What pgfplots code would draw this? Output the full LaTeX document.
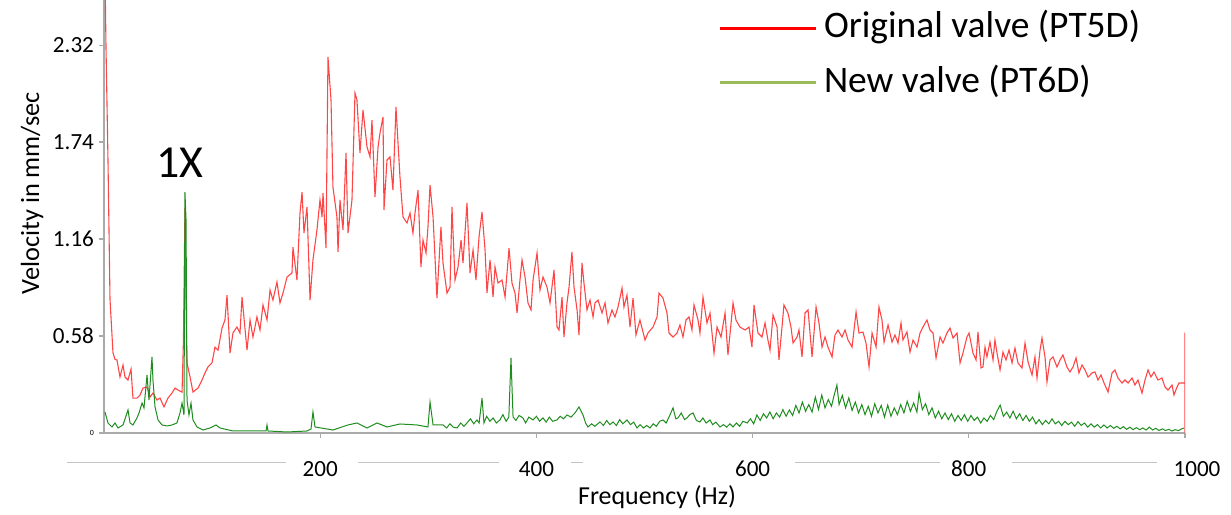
\documentclass[border=0pt]{standalone}
\usepackage{pgfplots}
\usepackage{pgfplotstable}
\pgfplotsset{compat=1.18}
\usepackage{fontspec}
\setmainfont{Carlito}
\definecolor{redline}{RGB}{255,70,70}
\definecolor{greenline}{RGB}{30,140,30}
\definecolor{legendgreen}{RGB}{155,187,89}
\definecolor{axisgray}{RGB}{170,170,170}

\pgfplotstableread{
f v
0 3.2
1.85 2.31
3.7 1.63
5.55 0.80
8.3 0.48
10.2 0.44
12.0 0.437
14.8 0.335
17.6 0.407
19.4 0.335
22.2 0.317
25.0 0.383
26.8 0.209
30.5 0.209
33.3 0.227
36.1 0.269
39.8 0.275
42.6 0.215
45.3 0.239
49.0 0.197
51.8 0.209
55.5 0.156
59.2 0.209
62.9 0.239
65.7 0.269
68.5 0.257
72.2 0.245
73.5 0.556
74.9 1.346
75.9 0.736
76.8 0.419
79.6 0.335
82.3 0.245
87.0 0.269
90.7 0.317
93.4 0.359
96.2 0.395
99.9 0.419
102.7 0.514
105.5 0.496
109.2 0.628
111.9 0.676
113.8 0.825
116.6 0.478
119.3 0.598
123.0 0.634
125.8 0.598
127.7 0.813
132.3 0.496
135.1 0.676
137.8 0.574
141.5 0.694
144.3 0.616
147.1 0.766
150.8 0.676
153.6 0.855
156.3 0.795
160.0 0.903
162.8 0.778
165.6 0.837
169.3 0.933
173.9 0.957
174.8 1.112
178.5 0.915
181.3 1.316
183.2 1.441
185.0 1.196
187.8 1.352
190.6 0.795
193.3 1.035
197.0 1.214
199.8 1.394
201.7 1.292
202.6 1.435
205.4 1.106
207.2 2.249
210.0 1.992
211.8 1.471
215.5 1.292
216.5 1.083
218.3 1.394
221.1 1.214
223.9 1.675
225.7 1.196
229.4 1.394
232.2 2.033
234.0 1.992
236.8 1.675
239.6 1.932
243.3 1.711
246.1 1.651
247.9 1.872
250.7 1.411
253.5 1.711
255.3 1.794
258.1 1.890
259.0 1.334
261.8 1.633
264.6 1.651
267.3 1.453
270.1 1.950
273.8 1.531
276.6 1.292
280.3 1.256
283.1 1.316
285.8 1.196
287.7 1.316
290.5 1.453
293.2 0.993
295.1 1.154
297.9 1.077
299.7 1.232
301.6 1.483
304.4 1.292
308.0 0.807
311.7 1.232
313.6 1.017
317.3 0.837
320.1 0.873
321.9 1.352
324.7 0.915
327.5 0.993
330.3 1.154
332.1 1.017
335.8 1.376
338.6 0.957
341.4 1.094
344.1 0.915
346.9 1.172
349.7 1.322
352.5 1.094
354.3 0.837
357.1 1.035
359.9 0.813
361.7 0.993
364.5 0.897
368.2 0.915
371.0 0.813
374.7 1.106
377.4 0.897
380.2 0.837
382.1 0.718
384.8 0.915
386.7 1.035
389.5 0.933
392.2 0.778
395.0 0.736
396.9 0.915
400.6 1.077
403.3 0.855
406.1 0.933
409.8 0.873
412.6 0.778
416.3 0.975
419.1 0.634
420.9 0.616
423.7 0.813
425.5 0.574
428.3 0.778
430.2 0.873
432.9 1.083
434.8 0.873
437.6 0.736
439.4 0.586
442.2 1.017
444.0 0.897
446.8 0.736
449.6 0.795
452.4 0.694
454.2 0.778
457.0 0.795
460.7 0.718
463.5 0.778
466.2 0.658
469.9 0.736
472.7 0.694
475.5 0.754
479.2 0.867
481.0 0.754
483.8 0.825
486.6 0.634
489.4 0.807
492.1 0.586
495.8 0.676
500.5 0.556
503.2 0.598
507.9 0.634
511.6 0.694
513.4 0.837
517.1 0.807
520.8 0.718
522.7 0.598
526.4 0.574
530.1 0.598
532.8 0.646
535.6 0.574
538.4 0.676
541.2 0.694
543.9 0.616
545.8 0.766
549.5 0.676
551.3 0.598
554.1 0.813
557.8 0.658
560.6 0.718
564.3 0.478
567.1 0.634
570.8 0.574
574.5 0.718
577.2 0.467
581.9 0.778
584.6 0.676
588.3 0.634
593.0 0.616
596.7 0.634
599.4 0.514
601.3 0.766
605.0 0.598
608.7 0.574
611.5 0.658
614.2 0.556
616.1 0.496
618.9 0.706
622.6 0.634
624.4 0.437
627.2 0.634
629.0 0.766
632.7 0.718
635.5 0.634
637.4 0.538
641.1 0.574
642.9 0.616
645.7 0.455
648.5 0.718
651.3 0.736
655.0 0.455
658.7 0.754
661.4 0.658
664.2 0.514
667.0 0.574
669.7 0.514
673.5 0.455
676.2 0.586
679.0 0.616
682.7 0.574
685.5 0.616
688.3 0.556
692.0 0.514
695.7 0.724
698.4 0.598
702.1 0.604
704.9 0.538
707.7 0.395
710.5 0.598
714.2 0.514
716.9 0.754
719.7 0.676
721.6 0.544
725.3 0.646
729.0 0.544
731.7 0.586
734.5 0.538
737.3 0.658
739.1 0.556
742.8 0.604
745.6 0.484
748.4 0.556
752.1 0.514
754.9 0.598
757.6 0.634
761.3 0.676
764.1 0.616
766.9 0.598
769.7 0.449
773.4 0.574
776.1 0.538
779.8 0.598
782.6 0.628
785.4 0.568
789.1 0.598
791.9 0.419
794.6 0.478
798.3 0.574
800.2 0.598
803.9 0.478
806.7 0.437
808.5 0.604
811.3 0.389
813.1 0.395
815.0 0.514
816.8 0.455
819.6 0.544
822.4 0.437
824.2 0.556
826.1 0.478
828.9 0.377
831.6 0.484
834.4 0.437
837.2 0.496
840.0 0.419
842.7 0.508
845.5 0.419
849.2 0.389
852.0 0.538
854.8 0.425
858.5 0.347
861.2 0.455
863.1 0.329
865.9 0.496
867.7 0.568
870.5 0.455
872.3 0.305
875.1 0.437
877.9 0.455
881.6 0.395
884.4 0.437
887.1 0.467
890.8 0.395
893.6 0.365
896.4 0.395
899.2 0.449
901.9 0.359
904.7 0.407
907.5 0.377
910.3 0.335
914.0 0.359
916.7 0.365
919.5 0.317
922.3 0.347
925.1 0.299
928.8 0.245
932.5 0.359
935.2 0.377
938.0 0.329
941.7 0.299
944.5 0.317
947.3 0.299
951.0 0.329
953.7 0.287
956.5 0.317
960.2 0.239
963.0 0.317
965.8 0.377
968.5 0.335
971.3 0.365
975.0 0.317
978.7 0.329
981.5 0.275
984.3 0.257
988.0 0.287
989.8 0.227
992.6 0.275
994.5 0.299
998.2 0.299
1000.0 0.299
1000.0 0.60
1000.0 0.0
}\redtable

\pgfplotstableread{
f v
0.9 0.126
3.7 0.060
7.4 0.036
10.2 0.060
13.0 0.030
17.6 0.048
22.2 0.138
24.1 0.060
26.8 0.048
30.5 0.090
32.4 0.120
35.2 0.179
37.0 0.150
39.8 0.347
41.6 0.197
44.4 0.455
45.3 0.317
47.2 0.156
50.0 0.078
53.7 0.048
58.3 0.042
62.9 0.048
67.5 0.060
70.3 0.120
72.2 0.179
74.0 0.108
74.9 1.441
75.9 1.274
76.8 0.197
78.6 0.108
80.5 0.179
82.3 0.078
86.0 0.036
91.6 0.018
98.1 0.030
103.6 0.048
107.3 0.030
119.3 0.012
135.1 0.012
149.9 0.012
150.8 0.048
151.7 0.012
169.3 0.006
187.8 0.012
191.5 0.024
193.3 0.126
195.2 0.036
211.8 0.018
225.7 0.048
234.0 0.060
243.3 0.030
252.5 0.060
261.8 0.036
273.8 0.054
289.5 0.048
299.7 0.036
301.6 0.185
304.4 0.048
313.6 0.048
317 0.030
320 0.055
323 0.035
326.6 0.030
330 0.060
333 0.040
335.8 0.060
339 0.085
342 0.055
345.0 0.078
347 0.060
349.7 0.209
351.5 0.060
354 0.100
357 0.070
359.9 0.090
363 0.060
366.3 0.078
369 0.110
372 0.070
374.5 0.096
376.5 0.449
378.4 0.096
381 0.075
384 0.105
387.6 0.090
390 0.060
393 0.095
396.9 0.078
400 0.100
403 0.070
406.1 0.090
409 0.065
412 0.095
415 0.070
419.1 0.078
422 0.100
425 0.085
428.3 0.108
432 0.095
435.7 0.120
439.4 0.156
443.1 0.108
445.5 0.060
447.7 0.036
451 0.055
454 0.040
458.8 0.066
462 0.045
465 0.075
468 0.050
470.9 0.066
474 0.045
477 0.080
480 0.055
483.8 0.078
487 0.050
490 0.065
493.1 0.030
496 0.050
499 0.030
502 0.045
505.1 0.030
508 0.055
511 0.040
514 0.070
517.1 0.078
520 0.060
523 0.100
526.4 0.150
529 0.085
531.0 0.090
534 0.120
537 0.080
539.3 0.090
542 0.110
544.9 0.120
548 0.075
551.3 0.066
554 0.090
557 0.060
560.6 0.078
563 0.050
566 0.065
569.8 0.036
573 0.050
576 0.035
579 0.055
581.9 0.036
585 0.060
588 0.040
591 0.070
595 0.060
598 0.085
601 0.055
604 0.108
607 0.075
610 0.115
613 0.090
616 0.126
619 0.085
622 0.120
625 0.095
628 0.140
631 0.100
634 0.138
637 0.105
640 0.165
643 0.120
646 0.185
649 0.130
652 0.170
655 0.125
658 0.215
661 0.140
664 0.227
667 0.150
670 0.200
673 0.160
675 0.215
678 0.287
680 0.170
683 0.225
686 0.150
689 0.210
692 0.135
695 0.185
698 0.120
701 0.170
704 0.110
707 0.160
710 0.100
713 0.175
716 0.120
719 0.165
722 0.095
725 0.167
728 0.100
731 0.150
734 0.110
737 0.170
740 0.120
743 0.190
746 0.130
749 0.180
752 0.125
754 0.239
757 0.140
760 0.175
763 0.110
766 0.150
769 0.090
772 0.130
775 0.085
778 0.120
781 0.080
784 0.115
787 0.070
790 0.105
793 0.075
796 0.110
799 0.070
802 0.105
805 0.075
808 0.095
811 0.060
814 0.090
817 0.070
820 0.105
823 0.080
826 0.130
829 0.167
832 0.100
835 0.125
838 0.090
841 0.130
844 0.085
847 0.115
850 0.075
853 0.105
856 0.070
859 0.095
862 0.055
865 0.080
868 0.050
871 0.075
874 0.055
877 0.085
880 0.055
883 0.070
886 0.045
889 0.070
892 0.050
895 0.065
898 0.040
901 0.068
904 0.045
907 0.060
910 0.035
913 0.055
916 0.035
919 0.050
922 0.030
925 0.048
928 0.030
931 0.045
934 0.028
937 0.040
940 0.025
943 0.038
946 0.022
949 0.035
952 0.020
955 0.032
958 0.020
961 0.030
964 0.018
967 0.035
970 0.018
973 0.028
976 0.015
979 0.025
982 0.015
985 0.022
988 0.012
991 0.020
994 0.014
997 0.025
999 0.030
}\greentable

\begin{document}
\begin{tikzpicture}
\useasboundingbox (-52bp,-41bp) rectangle (563.5bp,216.5bp);
\begin{axis}[
  at={(0,0)}, anchor=south west,
  scale only axis,
  width=540.5bp, height=216.5bp,
  xmin=0, xmax=1000, ymin=0, ymax=2.59,
  axis x line*=bottom, axis y line*=left,
  axis line style={axisgray, line width=1bp, -},
  xtick={200,400,600,800,1000},
  xticklabels={200,400,600,800,\hspace*{12bp}1000},
  ytick={0,0.58,1.16,1.74,2.32},
  yticklabels={{\fontsize{4}{4}\selectfont 0},0.58,1.16,1.74,2.32},
  tick align=outside,
  major tick length=2.5bp,
  tick style={axisgray, line width=0.6bp},
  /pgf/number format/assume math mode=true,
  ticklabel style={font=\fontsize{11.6}{13}\selectfont},
  xticklabel style={anchor=center, yshift=-15.5bp},
  yticklabel style={xshift=1bp},
  xlabel={Frequency (Hz)},
  ylabel={Velocity in mm/sec},
  xlabel style={at={(axis description cs:0.5116,-0.1490)}, anchor=center, font=\fontsize{13}{15}\selectfont},
  ylabel style={at={(axis description cs:-0.0666,0.554)}, anchor=center, font=\fontsize{13.2}{15}\selectfont},
  clip=true,
  legend style={at={(rel axis cs:0.568,0.998)}, anchor=north west, draw=none, fill=none,
    inner sep=0pt, font=\fontsize{18.8}{21}\selectfont,
    nodes={text height=13.5bp, text depth=4bp, inner ysep=4.8bp, inner xsep=3bp}},
  legend cell align=left,
  legend image code/.code={\draw[#1] (0bp,0bp) -- (48bp,0bp);},
]
\addplot[redline, line width=0.55bp, forget plot] table[x=f,y=v] {\redtable};
\addplot[greenline, line width=0.5bp, forget plot] table[x=f,y=v] {\greentable};
\addlegendimage{red, line width=1.8bp}
\addlegendentry{Original valve (PT5D)}
\addlegendimage{legendgreen, line width=1.8bp}
\addlegendentry{New valve (PT6D)}
\coordinate (a1) at (axis cs:-34.2,0);
\coordinate (b1) at (axis cs:168.4,0);
\coordinate (a2) at (axis cs:235.0,0);
\coordinate (b2) at (axis cs:365.4,0);
\coordinate (a3) at (axis cs:432.0,0);
\coordinate (b3) at (axis cs:443.1,0);
\coordinate (a4) at (axis cs:639.2,0);
\coordinate (b4) at (axis cs:773.4,0);
\coordinate (a5) at (axis cs:840.0,0);
\coordinate (b5) at (axis cs:974.1,0);
\node[font=\fontsize{4}{4}\selectfont, anchor=north, inner sep=1bp] at (axis cs:0,0) {0};
\node[font=\fontsize{23}{26}\selectfont] at (axis description cs:0.0703,0.6236) {1X};
\end{axis}
\foreach \i in {1,...,5} {
  \draw[axisgray!70, line width=0.5bp] ([yshift=-14.5bp]a\i) -- ([yshift=-14.5bp]b\i);
}
\end{tikzpicture}
\end{document}
